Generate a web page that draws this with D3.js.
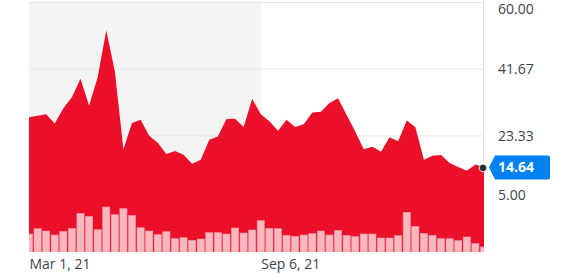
<!DOCTYPE html>
<html>
<head>
<meta charset="utf-8">
<script src="https://cdn.jsdelivr.net/npm/d3@7/dist/d3.min.js"></script>
<style>
  body { margin: 0; background: #fff; }
  svg { display: block; }
  svg text { font-family: "Open Sans", sans-serif; }
</style>
</head>
<body>
<div id="chart"></div>
<script>
// Size
var chartWidth  = 563;
var chartHeight = 274;
var plotLeft = 29, plotRight = 484, plotTop = 2, plotBottom = 252;

// Weekly data (Mondays)
var weeks = [
  "2021-03-01","2021-03-08","2021-03-15","2021-03-22","2021-03-29",
  "2021-04-05","2021-04-12","2021-04-19","2021-04-26",
  "2021-05-03","2021-05-10","2021-05-17","2021-05-24","2021-05-31",
  "2021-06-07","2021-06-14","2021-06-21","2021-06-28",
  "2021-07-05","2021-07-12","2021-07-19","2021-07-26",
  "2021-08-02","2021-08-09","2021-08-16","2021-08-23","2021-08-30",
  "2021-09-06","2021-09-13","2021-09-20","2021-09-27",
  "2021-10-04","2021-10-11","2021-10-18","2021-10-25",
  "2021-11-01","2021-11-08","2021-11-15","2021-11-22","2021-11-29",
  "2021-12-06","2021-12-13","2021-12-20","2021-12-27",
  "2022-01-03","2022-01-10","2022-01-17","2022-01-24","2022-01-31",
  "2022-02-07","2022-02-14","2022-02-21","2022-02-28",
  "2022-03-07"
];
var prices = [
  28.3, 28.7, 29.1, 26.6, 30.8, 33.8, 38.9, 31.5, 39.3, 52.2,
  40.9, 19.5, 26.7, 27.6, 23.2, 21.3, 18.2, 19.0, 18.0, 15.5,
  16.6, 22.1, 23.0, 27.8, 27.9, 25.6, 33.4, 29.1, 27.2, 24.6,
  27.6, 25.6, 26.4, 29.6, 29.8, 32.2, 33.5, 28.9, 24.4, 19.5,
  20.2, 18.8, 22.8, 21.7, 27.4, 25.6, 16.6, 17.7, 17.9, 15.7,
  14.6, 13.6, 15.3, 14.64
];
// volume, millions
var volumes = [
  18.0, 23.3, 21.0, 17.0, 20.6, 23.6, 38.6, 35.6, 22.3, 45.0,
  37.3, 43.3, 36.6, 24.3, 21.0, 17.3, 20.3, 13.3, 14.3, 11.6,
  13.0, 19.3, 19.3, 18.0, 24.0, 19.0, 22.0, 31.3, 23.6, 23.3,
  16.6, 15.6, 17.0, 18.3, 21.0, 17.0, 21.6, 16.6, 15.3, 18.0,
  18.0, 14.0, 14.0, 16.3, 39.6, 25.6, 18.6, 16.6, 13.3, 13.3,
  11.3, 15.0, 8.6, 5.0
];
var priceTicks = [60.00, 41.67, 23.33, 5.00];
var dateTicks = ["2021-03-01", "2021-09-06"];
var shadeRange = ["2021-03-01", "2021-09-06"];
var lastPrice = 14.64;

var parse = d3.timeParse("%Y-%m-%d");
var data = weeks.map(function(w, i){
  return { date: parse(w), price: prices[i], vol: volumes[i] };
});

// Scales
var x = d3.scaleTime()
  .domain([data[0].date, data[data.length - 1].date])
  .range([plotLeft, plotRight]);
var y = d3.scaleLinear()
  .domain([5, 60])
  .range([202, plotTop]);
var yVol = d3.scaleLinear()
  .domain([0, 45])
  .range([plotBottom, plotBottom - 45]);

var svg = d3.select("#chart")
  .append("svg")
  .attr("width", chartWidth)
  .attr("height", chartHeight);

svg.append("defs").append("clipPath")
  .attr("id", "plot-clip")
  .append("rect")
  .attr("x", plotLeft).attr("y", 0)
  .attr("width", plotRight - plotLeft)
  .attr("height", plotBottom);

// shaded half-year band
svg.append("rect")
  .attr("x", x(parse(shadeRange[0])))
  .attr("y", plotTop)
  .attr("width", x(parse(shadeRange[1])) - x(parse(shadeRange[0])))
  .attr("height", plotBottom - plotTop)
  .attr("fill", "#f4f4f4");

// gridlines
svg.append("g")
  .attr("transform", "translate(" + plotLeft + ",0)")
  .call(d3.axisRight(y).tickValues(priceTicks).tickSize(plotRight - plotLeft).tickFormat(""))
  .call(function(g){
    g.select(".domain").remove();
    g.selectAll("line").attr("stroke", "#e8e8e8");
  });

// right vertical line
svg.append("line")
  .attr("x1", plotRight - 0.5).attr("x2", plotRight - 0.5)
  .attr("y1", 0).attr("y2", plotBottom)
  .attr("stroke", "#dfe1e8");

// price area
var area = d3.area()
  .x(function(d){ return x(d.date); })
  .y0(plotBottom)
  .y1(function(d){ return y(d.price); });

svg.append("path")
  .datum(data)
  .attr("d", area)
  .attr("fill", "#eb0f29");

// volume bars
svg.append("g")
  .attr("clip-path", "url(#plot-clip)")
  .selectAll("rect")
  .data(data)
  .enter()
  .append("rect")
  .attr("x", function(d){ return x(d.date) - 3.6; })
  .attr("width", 7.2)
  .attr("y", function(d){ return yVol(d.vol); })
  .attr("height", function(d){ return plotBottom - yVol(d.vol); })
  .attr("fill", "#f9b7c0")
  .attr("stroke", "#f597a5")
  .attr("stroke-width", 0.6);

// price labels
svg.append("g")
  .attr("transform", "translate(" + plotRight + ",0)")
  .call(d3.axisRight(y).tickValues(priceTicks).tickSize(0).tickPadding(14)
    .tickFormat(d3.format(".2f")))
  .call(function(g){
    g.attr("font-family", null);
    g.select(".domain").remove();
    g.selectAll("text")
      .attr("fill", "#3c444c")
      .style("font-size", "14px")
      .attr("dy", "0.35em")
      .attr("y", function(d){
        var p = y(d);
        return Math.min(Math.max(p, 9), 195) - p;
      });
  });

// date labels
svg.append("g")
  .attr("transform", "translate(0," + plotBottom + ")")
  .call(d3.axisBottom(x).tickValues(dateTicks.map(parse)).tickSize(0)
    .tickFormat(d3.timeFormat("%b %-d, %y")))
  .call(function(g){
    g.attr("font-family", null);
    g.select(".domain").remove();
    g.selectAll("text")
      .attr("fill", "#3c444c")
      .style("font-size", "14px")
      .attr("text-anchor", "start")
      .attr("dy", 0)
      .attr("y", 17);
  });

// last price marker
var last = data[data.length - 1];
var lx = x(last.date), ly = y(lastPrice);
svg.append("circle")
  .attr("cx", lx - 1)
  .attr("cy", ly + 1)
  .attr("r", 3.8)
  .attr("fill", "#232a31")
  .attr("stroke", "#fff")
  .attr("stroke-width", 0.8);

var tag = svg.append("g").attr("transform", "translate(0," + (ly + 0.5) + ")");
tag.append("path")
  .attr("d", "M" + (lx + 5) + ",0 L" + (lx + 11) + ",-12 H" + (lx + 64) +
    " Q" + (lx + 66) + ",-12 " + (lx + 66) + ",-10 V10 Q" + (lx + 66) + ",12 " + (lx + 64) + ",12 H" + (lx + 11) + " Z")
  .attr("fill", "#0081f2");
tag.append("text")
  .attr("x", lx + 14)
  .attr("dy", "0.35em")
  .attr("fill", "#fff")
  .style("font-size", "14px")
  .style("font-weight", "bold")
  .text(d3.format(".2f")(lastPrice));
</script>
</body>
</html>
